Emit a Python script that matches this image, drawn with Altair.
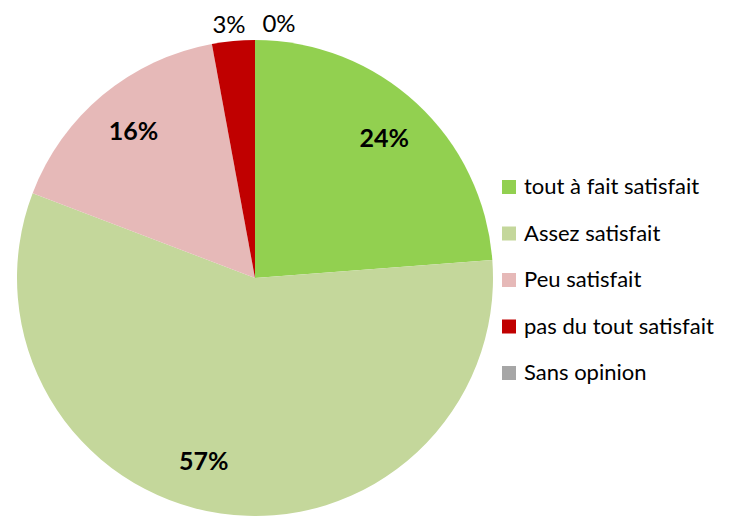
import altair as alt
import pandas as pd

categories = ["tout à fait satisfait", "Assez satisfait", "Peu satisfait",
              "pas du tout satisfait", "Sans opinion"]
values = [23.8, 57.0, 16.3, 2.9, 0.0]
colors = ["#92D050", "#C4D79B", "#E6B9B8", "#C00000", "#A6A6A6"]

df = pd.DataFrame({"cat": categories, "value": values,
                   "idx": list(range(len(categories)))})

CX, CY = 247, 270
FONT = "Lato"
FS = 25

base = alt.Chart(df).transform_calculate(
    lab="format(round(datum.value), 'd') + '%'"
).encode(
    theta=alt.Theta("value:Q", stack=True),
    order=alt.Order("idx:Q"),
    x=alt.value(CX),
    y=alt.value(CY),
)

arc = base.mark_arc(outerRadius=238, stroke=None).encode(
    color=alt.Color(
        "cat:N",
        scale=alt.Scale(domain=categories, range=colors),
        sort=categories,
        legend=alt.Legend(
            title=None, orient="none", legendX=490, legendY=168,
            symbolType="square", symbolSize=196, symbolStrokeWidth=0,
            labelFont=FONT, labelFontSize=22, labelColor="#000000",
            labelOffset=4, rowPadding=24.5, padding=0, labelLimit=400,
        ),
    )
)

inner = base.transform_calculate(
    t="(datum.value >= 5 && datum.value < 50) ? datum.lab : ''"
).mark_text(radius=190, font=FONT, fontSize=FS, fontWeight="bold",
            color="#000000").encode(text="t:N")

big = base.transform_calculate(
    t="datum.value >= 50 ? datum.lab : ''"
).mark_text(radius=190, dx=-24, dy=-4, font=FONT, fontSize=FS, fontWeight="bold",
            color="#000000").encode(text="t:N")

outer = base.transform_calculate(
    t="(datum.value < 5 && datum.value > 0) ? datum.lab : ''"
).mark_text(radius=253, dx=-3, font=FONT, fontSize=24, color="#000000").encode(text="t:N")

zero = base.transform_calculate(
    t="datum.value == 0 ? datum.lab : ''"
).mark_text(radius=253, dx=24, font=FONT, fontSize=24, color="#000000").encode(text="t:N")

chart = alt.layer(arc, inner, big, outer, zero).properties(
    width=712, height=508,
    autosize=alt.AutoSizeParams(type="none"),
    padding=0,
).configure_view(stroke=None)

chart.save("out.html", embed_options={"renderer": "svg", "actions": False})
